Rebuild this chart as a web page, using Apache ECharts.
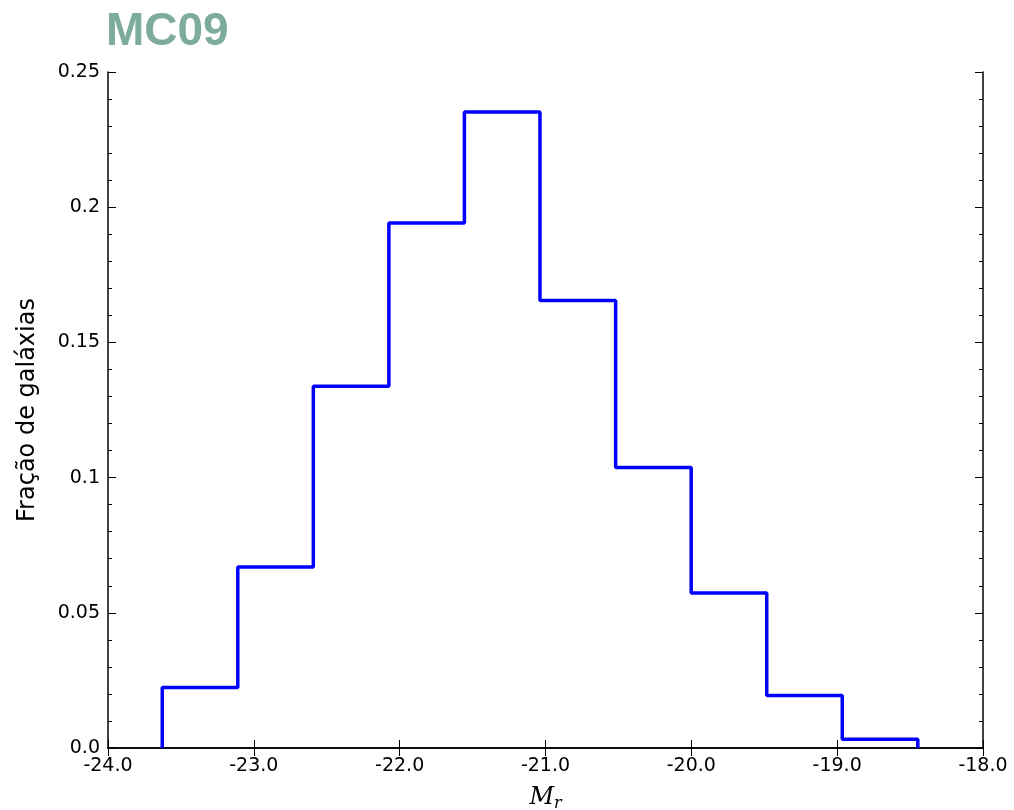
<!DOCTYPE html>
<html>
<head>
<meta charset="utf-8">
<title>MC09</title>
<script src="https://cdn.jsdelivr.net/npm/echarts@6/dist/echarts.min.js"></script>
<style>
  html, body { margin: 0; padding: 0; background: #fff; }
  #chart { width: 1014px; height: 810px; }
</style>
</head>
<body>
<div id="chart"></div>
<script>
// histogram bin edges (M_r) and fractions
const binEdges = [-23.628, -23.110, -22.592, -22.074, -21.556, -21.038, -20.519, -20.001, -19.483, -18.965, -18.447]
const fractions = [0.0224, 0.0669, 0.1338, 0.1942, 0.2352, 0.1655, 0.1037, 0.0573, 0.0194, 0.0032]
const xTicks = [-24, -23, -22, -21, -20, -19, -18]
const yTicks = [0, 0.05, 0.1, 0.15, 0.2, 0.25]

// outline points for a step line
const stepData = [[binEdges[0], 0]]
fractions.forEach((v, i) => stepData.push([binEdges[i + 1], v]))
stepData.push([binEdges[binEdges.length - 1], 0])

const font = '"Liberation Sans", Arial, sans-serif'
const tickFont = '"DejaVu Sans", sans-serif'
const axisLine = { show: true, lineStyle: { color: '#000', width: 1.5 } }

const chart = echarts.init(document.getElementById('chart'))

chart.setOption({
  animation: false,
  title: {
    text: 'MC09',
    left: 101,
    top: 4,
    textStyle: { fontFamily: font, fontSize: 46, fontWeight: 'bold', color: '#7dab9c' }
  },
  grid: { left: 108, right: 31, top: 72, bottom: 62, outerBoundsMode: 'none', containLabel: false },
  xAxis: [
    {
      type: 'value',
      min: xTicks[0],
      max: xTicks[xTicks.length - 1],
      interval: 1,
      axisLine,
      splitLine: { show: false },
      axisTick: { inside: true, length: 8, lineStyle: { color: '#000' } },
      axisLabel: {
        fontFamily: tickFont, fontSize: 19, color: '#000', margin: 9,
        formatter: v => v.toFixed(1)
      },
      name: '{m|M}{r|r}',
      nameLocation: 'middle',
      nameGap: 36,
      nameTextStyle: {
        rich: {
          m: { fontFamily: '"DejaVu Serif", serif', fontStyle: 'italic', fontSize: 24, color: '#000' },
          r: { fontFamily: '"DejaVu Serif", serif', fontStyle: 'italic', fontSize: 16, color: '#000', verticalAlign: 'bottom', padding: [12, 0, 0, 0] }
        }
      }
    },
    {
      type: 'value',
      position: 'top',
      min: xTicks[0],
      max: xTicks[xTicks.length - 1],
      interval: 1,
      axisLine,
      splitLine: { show: false },
      axisTick: { inside: true, length: 8, lineStyle: { color: '#000' } },
      axisLabel: { show: false }
    }
  ],
  yAxis: [
    {
      type: 'value',
      min: yTicks[0],
      max: yTicks[yTicks.length - 1],
      interval: 0.05,
      axisLine,
      splitLine: { show: false },
      axisTick: { inside: true, length: 8, lineStyle: { color: '#000' } },
      minorTick: { show: true, splitNumber: 5, length: 4, lineStyle: { color: '#000' } },
      axisLabel: {
        fontFamily: tickFont, fontSize: 19, color: '#000', margin: 8,
        formatter: v => (v === 0 ? '0.0' : String(+v.toFixed(2)))
      },
      name: 'Fração de galáxias',
      nameLocation: 'middle',
      nameGap: 68,
      nameTextStyle: { fontFamily: tickFont, fontSize: 24, color: '#000' }
    },
    {
      type: 'value',
      position: 'right',
      min: yTicks[0],
      max: yTicks[yTicks.length - 1],
      interval: 0.05,
      axisLine,
      splitLine: { show: false },
      axisTick: { inside: true, length: 8, lineStyle: { color: '#000' } },
      minorTick: { show: true, splitNumber: 5, length: 4, lineStyle: { color: '#000' } },
      axisLabel: { show: false }
    }
  ],
  series: [
    {
      type: 'line',
      step: 'start',
      data: stepData,
      symbol: 'none',
      lineStyle: { color: '#0000ff', width: 3.5 },
      z: 1
    }
  ]
})
</script>
</body>
</html>
